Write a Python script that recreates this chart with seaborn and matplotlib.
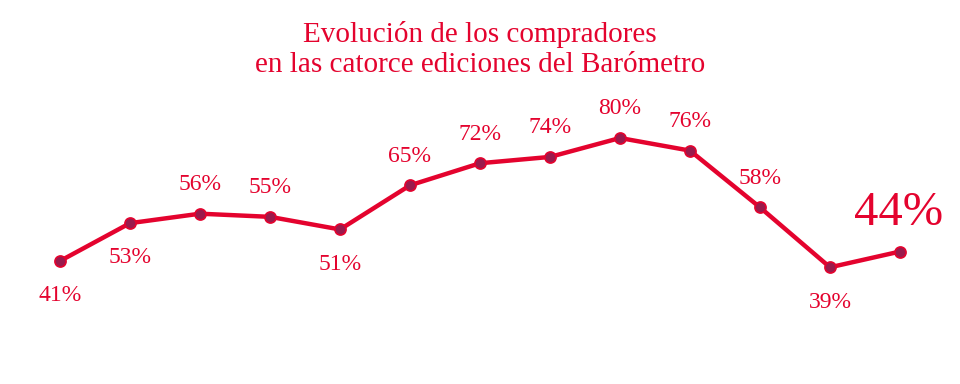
import numpy as np
import pandas as pd
import matplotlib
matplotlib.use("Agg")
import matplotlib.pyplot as plt
import seaborn as sns

# data
ediciones = list(range(1, 14))
compradores = [41, 53, 56, 55, 51, 65, 72, 74, 80, 76, 58, 39, 44]
# where each label sits: 1 = above the point, -1 = below
label_side = [-1, -1, 1, 1, -1, 1, 1, 1, 1, 1, 1, -1, 1]

titulo = "Evolución de los compradores\nen las catorce ediciones del Barómetro"

red = "#E4032E"
marker_fill = "#9A1A4C"

sns.set_theme(style="white")
plt.rcParams["font.family"] = ["Liberation Serif", "DejaVu Serif"]

df = pd.DataFrame({"edicion": ediciones, "pct": compradores})

fig = plt.figure(figsize=(9.6, 3.84), dpi=100)
ax = fig.add_axes([0, 0, 1, 1])

sns.lineplot(data=df, x="edicion", y="pct", ax=ax, color=red, linewidth=3.2,
             marker="o", markersize=8, markerfacecolor=marker_fill,
             markeredgecolor=red, markeredgewidth=1.2)

# limits so that the points land where they are in the reference
step = 70.0
ax.set_xlim(1 - 60 / step, 13 + 60 / step)
ppu = 123 / 39.0
ax.set_ylim(41 - 123 / ppu, 41 + 261 / ppu)
ax.axis("off")

for i, (x, v, s) in enumerate(zip(ediciones, compradores, label_side)):
    if i == len(compradores) - 1:
        ax.annotate(f"{v}%", (x, v), xytext=(-1, 28), textcoords="offset points",
                    ha="center", va="center", color=red, fontsize=35)
        continue
    off = 21 if s > 0 else -25
    ax.annotate(f"{v}%", (x, v), xytext=(0, off), textcoords="offset points",
                ha="center", va="center", color=red, fontsize=17)

fig.text(0.5, 0.87, titulo, ha="center", va="center", color=red,
         fontsize=21, linespacing=1.2)

fig.savefig("out.png", dpi=100)
